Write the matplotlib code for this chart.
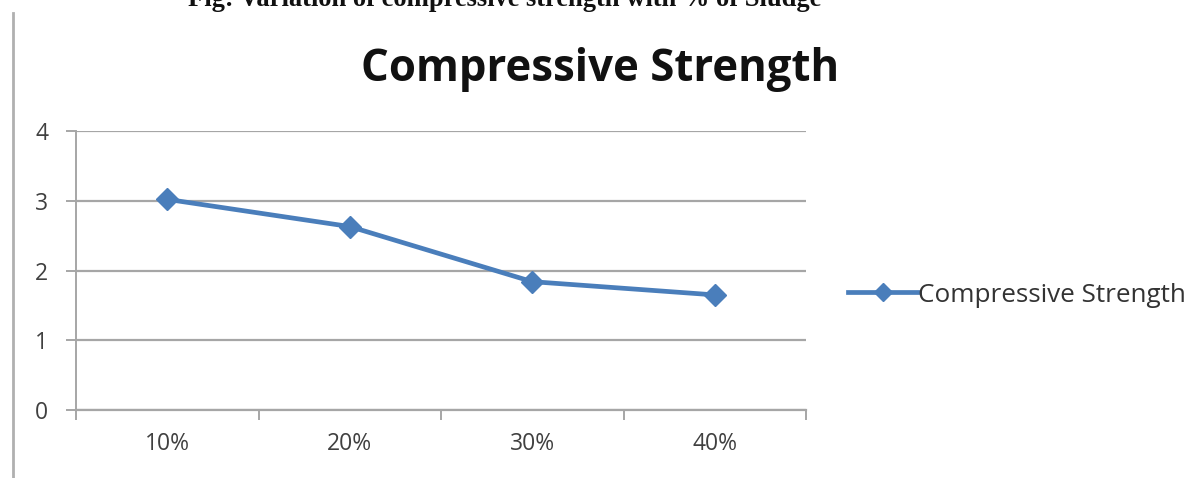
import matplotlib
matplotlib.use("Agg")
import matplotlib.pyplot as plt
from matplotlib.lines import Line2D

categories = ["10%", "20%", "30%", "40%"]
strength = [3.02, 2.63, 1.84, 1.65]
yticks = [0, 1, 2, 3, 4]
series_name = "Compressive Strength"
title = "Compressive Strength"
caption = "Fig: Variation of compressive strength with % of Sludge"

fig = plt.figure(figsize=(11.92, 4.78), dpi=100)
ax = fig.add_axes([76/1192, 1-410/478, (806-76)/1192, (410-131)/478])

x = list(range(len(categories)))
line_color = "#4a7ebb"
ax.plot(x, strength, color=line_color, lw=3.4, marker="D", markersize=11,
        markerfacecolor=line_color, markeredgecolor=line_color, zorder=3,
        label=series_name)

ax.set_xlim(-0.5, len(categories) - 0.5)
ax.set_ylim(0, 4)
ax.set_yticks(yticks)
ax.set_xticks(x)
ax.set_xticklabels(categories)
ax.set_xticks([i - 0.5 for i in range(len(categories) + 1)], minor=True)

grid_c = "#a6a6a6"
ax.grid(axis="y", color=grid_c, lw=1.6)
ax.set_axisbelow(True)
for s in ["top", "right"]:
    ax.spines[s].set_visible(False)
ax.spines["left"].set_color(grid_c)
ax.spines["left"].set_linewidth(1.4)
ax.spines["bottom"].set_color(grid_c)
ax.spines["bottom"].set_linewidth(1.6)

ax.tick_params(axis="y", direction="out", length=7, width=1.4, color=grid_c,
               labelsize=16.5, labelcolor="#404040", pad=13)
ax.tick_params(axis="x", which="major", length=0, labelsize=16.5,
               labelcolor="#404040", pad=16)
ax.tick_params(axis="x", which="minor", direction="out", length=7, width=1.4,
               color=grid_c)
for lab in ax.get_xticklabels() + ax.get_yticklabels():
    lab.set_fontfamily("Open Sans")

fig.text(600/1192, 1-70/478, title, ha="center", va="center",
         fontsize=31.5, fontweight="bold", family="Open Sans", color="#111111")

fig.text(505/1192, 1-6/478, caption, ha="center", va="baseline",
         fontsize=19.1, fontweight="bold", family="Liberation Serif", color="#111111")

# left border line
fig.add_artist(Line2D([13/1192, 13/1192], [0, 1-13/478],
                      color="#b0b0b0", lw=2, transform=fig.transFigure))

handle = Line2D([], [], color=line_color, lw=3.4, marker="D", markersize=9,
                markerfacecolor=line_color, markeredgecolor=line_color)
fig.legend([handle], [series_name], loc="center left",
           bbox_to_anchor=(848/1192, 1-295/478), frameon=False,
           prop={"family": "Open Sans", "size": 18.8}, handlelength=2.7,
           handletextpad=0.0, borderaxespad=0, borderpad=0, labelcolor="#333333")

fig.savefig("out.png", dpi=100, facecolor="white")
